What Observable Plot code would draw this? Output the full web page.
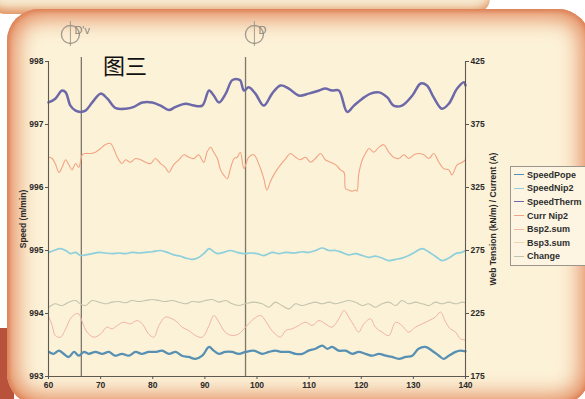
<!DOCTYPE html>
<html><head><meta charset="utf-8">
<script src="https://cdn.jsdelivr.net/npm/d3@7"></script>
<script src="https://cdn.jsdelivr.net/npm/@observablehq/plot@0.6"></script>
<style>
html,body{margin:0;padding:0;background:#fff;width:585px;height:399px;overflow:hidden;position:relative;}
#back{position:absolute;left:-10px;top:-30px;width:500px;height:44px;background:#f7ebd1;border-radius:0 0 16px 16px;box-shadow:inset 0 -8px 10px -3px #e0905e;}
#corner{position:absolute;left:0;top:328px;width:14px;height:80px;background:#b9523a;}
#panel{position:absolute;left:7px;top:9px;width:583px;height:396px;border-radius:32px;background:#fcf2d8;box-shadow:inset 0 0 22px 9px #e2875a, inset 0 0 4px 2px #c8603e;}
#chart{position:absolute;left:0;top:0;}
#title{position:absolute;left:103px;top:53px;font-size:22px;line-height:1;font-family:"Noto Sans CJK SC",sans-serif;color:#111;}
#legend{position:absolute;left:510px;top:166px;width:80px;border:1px solid #9a968c;background:#fdf5e2;padding:1px 0 2px 0;font:bold 9px "Liberation Sans",Arial,sans-serif;color:#2e2e2e;}
#legend .row{height:13.6px;display:flex;align-items:center;white-space:nowrap;}
#legend .sw{width:10px;height:0;border-top:1.6px solid;margin:0 3px 0 3px;}
</style></head>
<body>
<div id="back"></div>
<div id="corner"></div>
<div id="panel"></div>
<div id="chart"></div>
<div id="title">图三</div>
<div id="legend"></div>
<script>
// ---- data (time on x; speeds in m/min on left axis; tension/current on right axis) ----
const xTicks = [60, 70, 80, 90, 100, 110, 120, 130, 140];
const leftTicks = [993, 994, 995, 996, 997, 998];
const rightTicks = [175, 225, 275, 325, 375, 425];
const eventT = [66.3, 97.8];
const eventMarkT = [64.2, 99.5];
const eventLabels = ["D'v", "D"];
const seriesNames = ["SpeedPope", "SpeedNip2", "SpeedTherm", "Curr Nip2", "Bsp2.sum", "Bsp3.sum", "Change"];
const seriesColors = ["#5790b2", "#8dcfdb", "#6d69a9", "#f2a382", "#f1b3a5", "#ecd6ae", "#c4c4ad"];

// speeds (m/min)
const speedTherm = [[60,997.35],[61.3,997.41],[62.6,997.54],[63.3,997.51],[64.2,997.30],[65.2,997.22],[66.1,997.20],[67.1,997.22],[68.4,997.35],[70,997.49],[71.3,997.41],[72.9,997.26],[74.8,997.25],[76.4,997.28],[78,997.35],[79.9,997.35],[81.5,997.30],[83.1,997.23],[84.4,997.28],[86.3,997.33],[87.9,997.30],[89.5,997.30],[90.8,997.54],[91.7,997.46],[92.7,997.35],[94,997.49],[95.2,997.70],[96.2,997.72],[96.8,997.70],[97.5,997.54],[98.4,997.59],[99.7,997.49],[101.3,997.30],[102.9,997.49],[104.5,997.62],[106.1,997.57],[108,997.46],[109.9,997.49],[111.9,997.54],[113.1,997.57],[114.4,997.54],[115.7,997.54],[117.3,997.20],[118.6,997.30],[120.2,997.41],[121.8,997.49],[123.4,997.51],[125,997.43],[126.2,997.30],[127.8,997.30],[129.8,997.46],[131.4,997.65],[132.6,997.62],[133.9,997.43],[135.5,997.25],[136.8,997.33],[138.4,997.57],[139.7,997.67],[140,997.62]];
const speedNip2 = [[60.1,994.97],[61,995.00],[62.3,995.03],[63.3,995.00],[64.2,994.95],[65.2,994.97],[66.1,994.92],[67.1,994.93],[68.4,994.95],[69.7,994.97],[70.9,994.96],[72.2,994.95],[73.5,994.96],[74.8,994.95],[76,994.97],[77.3,994.96],[78.6,994.97],[79.9,994.98],[81.5,995.00],[82.8,994.97],[84,994.93],[85.3,994.91],[86.3,994.88],[87.6,994.86],[88.8,994.89],[89.8,994.95],[90.8,995.03],[91.4,995.00],[92.4,994.95],[93.6,994.97],[94.9,995.00],[96.2,994.97],[97.5,994.95],[98.7,994.96],[100,994.95],[101.3,994.92],[102.9,994.97],[104.2,994.95],[105.5,994.97],[107.1,994.96],[108.7,994.98],[109.9,994.97],[111.2,995.00],[112.5,995.04],[113.8,995.00],[115.1,995.00],[116.3,994.97],[117.6,994.93],[118.9,994.95],[120.2,994.92],[121.4,994.89],[122.7,994.91],[124,994.88],[125.3,994.84],[126.6,994.86],[127.8,994.88],[129.1,994.92],[130.4,994.98],[131.7,995.03],[132.9,994.98],[134.2,994.91],[135.5,994.84],[136.8,994.88],[138.1,994.95],[139.3,994.97],[140,995.00]];
const speedPope = [[60.1,993.39],[61,993.36],[62,993.41],[62.9,993.36],[63.9,993.31],[64.9,993.39],[65.8,993.33],[66.8,993.39],[67.7,993.36],[69,993.39],[70.3,993.36],[71.6,993.39],[72.8,993.33],[74.1,993.36],[75.4,993.33],[76.7,993.39],[77.9,993.36],[79.2,993.39],[80.5,993.39],[81.8,993.41],[83.1,993.36],[84.4,993.39],[85.6,993.33],[86.9,993.31],[88.2,993.28],[89.5,993.33],[90.8,993.47],[91.7,993.41],[92.7,993.36],[93.9,993.39],[95.2,993.39],[96.5,993.36],[97.8,993.39],[99.4,993.41],[101,993.36],[102.3,993.39],[103.5,993.41],[104.8,993.39],[106.1,993.39],[107.4,993.36],[108.7,993.36],[109.9,993.41],[111.2,993.44],[112.5,993.49],[113.5,993.44],[114.4,993.47],[115.7,993.41],[117,993.41],[118.3,993.36],[119.5,993.39],[120.8,993.36],[122.1,993.33],[123.4,993.36],[124.7,993.33],[125.9,993.31],[127.2,993.28],[128.5,993.31],[129.8,993.33],[131,993.44],[132.3,993.47],[133.6,993.41],[134.9,993.33],[135.8,993.28],[136.8,993.33],[138.1,993.39],[139,993.41],[140,993.40]];

// tension / current (right axis units)
const currNip2 = [[60.1,349],[60.7,348],[61.3,344],[62,337],[62.6,341],[63.3,347],[63.9,343],[64.5,339],[65.2,344],[65.8,341],[66.5,351],[67.1,352],[68.1,352],[69,353],[70,356],[70.9,359],[71.9,360],[72.5,356],[73.2,349],[74.1,344],[74.8,347],[75.7,345],[76.7,348],[77.7,347],[78.6,345],[79.6,344],[80.5,348],[81.5,344],[82.4,341],[83.1,337],[84,343],[85,347],[86,351],[86.9,349],[87.9,348],[88.8,351],[89.8,345],[90.4,353],[91.1,357],[91.7,353],[92.4,348],[93,339],[93.6,335],[94.3,332],[94.9,340],[95.6,348],[96.2,349],[96.8,353],[97.5,340],[98.4,349],[99.4,351],[100.4,343],[101.3,332],[101.9,323],[102.6,330],[103.5,337],[104.5,343],[105.5,348],[106.4,352],[107.4,349],[108.3,347],[109.3,349],[110.3,345],[111.2,348],[112.2,352],[113.1,347],[114.1,345],[115.1,343],[116,339],[116.7,337],[117,324],[117.6,323],[118.3,322],[118.9,323],[119.2,322],[119.5,335],[120.2,347],[120.8,352],[121.5,356],[122.4,353],[123.4,357],[124.3,359],[125.3,353],[126.2,349],[127.2,348],[128.2,351],[129.1,348],[130.1,351],[131,352],[132,351],[133,348],[133.9,352],[134.9,345],[135.8,340],[136.8,339],[137.4,335],[138.4,343],[139.4,345],[140,347]];
const bsp2Sum = [[60.1,222.1],[60.7,215.5],[61.3,207.5],[62.3,206.2],[63.3,212.8],[64.2,220.8],[65.2,224.7],[65.8,224.7],[66.5,218.1],[67.4,210.2],[68.7,206.2],[70,208.8],[71.2,214.2],[72.2,212.8],[73.2,215.5],[74.4,218.1],[75.7,216.8],[77,219.4],[78,216.8],[79.2,208.8],[80.2,206.2],[81.2,215.5],[82.4,222.1],[83.7,220.8],[84.7,218.1],[85.6,214.2],[86.9,211.5],[88.2,207.5],[89.5,206.2],[90.8,215.5],[91.7,223.4],[92.7,218.1],[93.9,210.2],[95.2,207.5],[96.5,208.8],[97.8,214.2],[99.4,220.8],[100.7,223.4],[101.6,219.4],[102.6,212.8],[103.5,208.8],[104.5,206.2],[105.5,211.5],[106.7,212.8],[108,215.5],[109.3,218.1],[110.6,215.5],[111.9,219.4],[113.1,216.8],[114.4,214.2],[115.7,220.8],[116.7,227.4],[117.6,222.1],[118.6,215.5],[119.5,210.2],[120.5,216.8],[121.8,220.8],[122.7,214.2],[124,210.2],[125.3,207.5],[126.6,218.1],[127.8,215.5],[129.1,210.2],[130.4,214.2],[131.7,216.8],[133,219.4],[134.2,222.1],[135.2,226.1],[136.2,218.1],[137.1,212.8],[138.1,210.2],[139,204.9],[140,204]];
const change = [[60.1,230.0],[61.3,232.7],[62.6,231.3],[63.9,234.0],[65.2,235.3],[66.1,232.7],[67.1,231.3],[68.4,235.3],[69.7,234.0],[70.9,232.7],[72.2,234.0],[73.5,234.5],[74.8,233.5],[76,235.3],[77.3,234.5],[78.6,235.3],[79.9,236.1],[81.2,235.3],[82.4,234.5],[83.7,235.3],[85,234.0],[86.3,232.7],[87.6,234.5],[88.8,234.0],[90.1,235.3],[91.4,236.1],[92.7,234.0],[94,235.3],[95.2,232.7],[96.5,231.3],[97.8,232.7],[99.4,234.0],[101,232.7],[102.3,230.0],[103.5,234.0],[104.8,231.3],[106.1,228.7],[107.4,232.7],[108.7,231.3],[109.9,232.7],[111.2,234.0],[112.5,232.7],[113.8,234.0],[115.1,232.7],[116.3,234.0],[117.6,235.3],[118.9,234.0],[120.2,231.3],[121.4,232.7],[122.7,230.0],[124,232.7],[125.3,234.0],[126.6,231.3],[127.8,235.3],[129.1,232.7],[130.4,234.0],[131.7,232.7],[133,231.3],[134.2,234.0],[135.5,232.7],[136.8,234.0],[138.1,232.7],[139.4,234.0],[140,233.5]];

// ---- build ----
const toLeft = r => 993 + (r - 175) / 50;          // right-axis units -> left-axis position
const toRight = v => Math.round(175 + (v - 993) * 50);
const L = (arr, name) => arr.map(([t, v]) => ({t, v, name}));
const R = (arr, name) => arr.map(([t, r]) => ({t, v: toLeft(r), name}));
const colorOf = n => seriesColors[seriesNames.indexOf(n)];
const events = eventT.map((t, i) => ({t, mt: eventMarkT[i], label: eventLabels[i]}));

const line = (data, name, w) => Plot.line(data, {x: "t", y: "v", stroke: colorOf(name), strokeWidth: w, curve: "catmull-rom", strokeLinejoin: "round"});

const chart = Plot.plot({
  width: 585, height: 399,
  marginLeft: 48, marginRight: 120, marginTop: 61, marginBottom: 23,
  style: {background: "transparent", fontFamily: "'Liberation Sans', Arial, sans-serif", fontWeight: "bold", fontSize: "8.5px", color: "#2a2a2a", overflow: "visible"},
  x: {domain: [60, 140]},
  y: {domain: [993, 998]},
  marks: [
    Plot.ruleX(eventT, {stroke: "#7d776b", strokeWidth: 1.3, insetTop: -4}),
    line(R(change, "Change"), "Change", 1.1),
    line(R(bsp2Sum, "Bsp2.sum"), "Bsp2.sum", 1.0),
    line(R(currNip2, "Curr Nip2"), "Curr Nip2", 1.1),
    line(L(speedNip2, "SpeedNip2"), "SpeedNip2", 1.7),
    line(L(speedPope, "SpeedPope"), "SpeedPope", 2.3),
    line(L(speedTherm, "SpeedTherm"), "SpeedTherm", 2.5),
    Plot.ruleX([60, 140], {stroke: "#5e5a52", strokeWidth: 1.1}),
    Plot.ruleY([993], {stroke: "#5e5a52", strokeWidth: 1.1}),
    Plot.axisX(xTicks, {anchor: "bottom", tickSize: 3, tickPadding: 2, tickFormat: "d", label: null, stroke: "#555"}),
    Plot.axisY(leftTicks, {anchor: "left", tickSize: 3, tickPadding: 2, tickFormat: "d", label: "Speed (m/min)", labelAnchor: "center", labelOffset: 29, labelArrow: "none", stroke: "#555"}),
    Plot.axisY(rightTicks.map(toLeft), {anchor: "right", tickSize: 3, tickPadding: 2, tickFormat: toRight, label: "Web Tension (kN/m) / Current (A)", labelAnchor: "center", labelOffset: 30, labelArrow: "none", stroke: "#555"}),
    Plot.ruleX(events, {x: "mt", insetTop: -40, insetBottom: 330, stroke: "#a39d90", strokeWidth: 1}),
    Plot.dot(events, {x: "mt", frameAnchor: "top", dy: -27, r: 9, stroke: "#9e988b", strokeWidth: 1.3, fill: "none"}),
    Plot.text(events, {x: "mt", text: "label", frameAnchor: "top", dy: -35, dx: 4, textAnchor: "start", fill: "#8d8779", fontSize: 11, fontWeight: "normal"})
  ]
});
document.getElementById("chart").appendChild(chart);

const lg = document.getElementById("legend");
seriesNames.forEach((n, i) => {
  const row = document.createElement("div");
  row.className = "row";
  const sw = document.createElement("span");
  sw.className = "sw";
  sw.style.borderTopColor = seriesColors[i];
  const tx = document.createElement("span");
  tx.textContent = n;
  row.appendChild(sw); row.appendChild(tx);
  lg.appendChild(row);
});
</script>
</body></html>
